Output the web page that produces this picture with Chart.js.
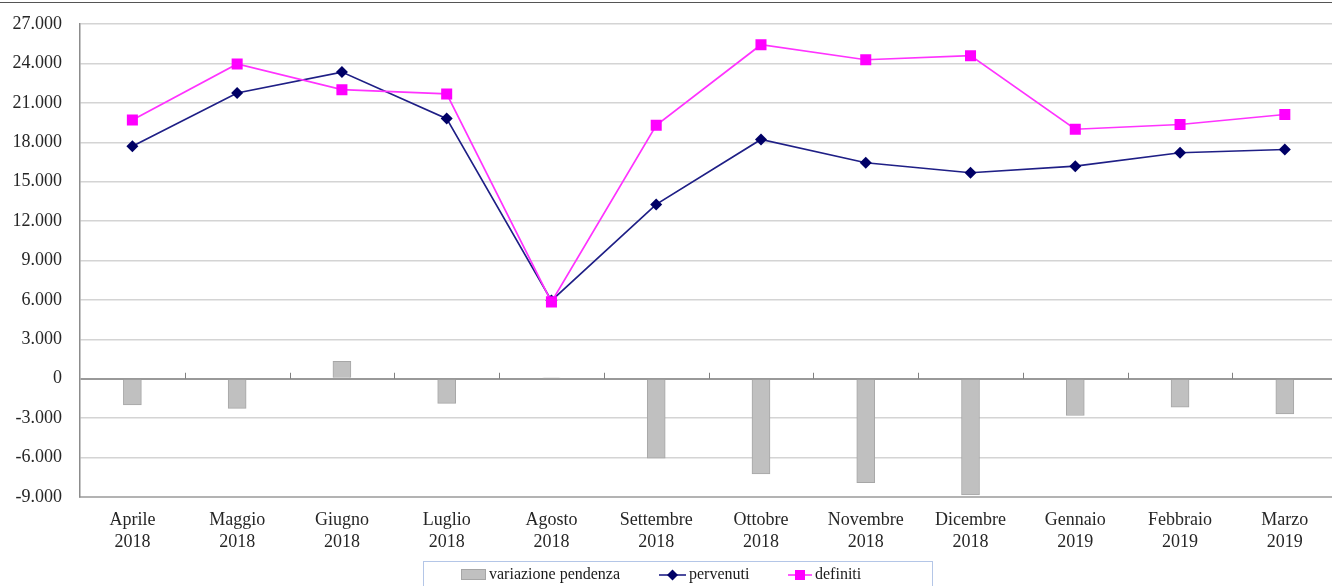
<!DOCTYPE html>
<html><head><meta charset="utf-8">
<script src="https://cdn.jsdelivr.net/npm/chart.js@4.4.1/dist/chart.umd.min.js"></script>
<style>
html,body{margin:0;padding:0;background:#fff;overflow:hidden;width:1332px;height:586px;}
#wrap{position:absolute;left:0;top:0;width:1345px;height:586px;}
#topline{position:absolute;left:0;top:2px;width:1332px;height:1px;background:#555;z-index:2}
</style></head><body>
<div id="topline"></div>
<div id="wrap"><canvas id="c" width="1345" height="586"></canvas></div>
<script>
const months = ["Aprile","Maggio","Giugno","Luglio","Agosto","Settembre","Ottobre","Novembre","Dicembre","Gennaio","Febbraio","Marzo"];
const years = ["2018","2018","2018","2018","2018","2018","2018","2018","2018","2019","2019","2019"];
const variazionePendenza = [-2000,-2250,1330,-1870,60,-6050,-7250,-7900,-8850,-2800,-2170,-2680];
const pervenuti = [17700,21750,23340,19800,5950,13270,18210,16440,15680,16180,17200,17450];
const definiti = [19700,23960,22000,21680,5850,19290,25420,24280,24590,18990,19350,20110];
const yMin = -9000, yMax = 27000, yStep = 3000;
const seriesNames = ["variazione pendenza","pervenuti","definiti"];

const labels = months.map((m,i)=>[m, years[i]]);
const FONT = "'Liberation Serif','Times New Roman',serif";
Chart.defaults.font.family = FONT;
Chart.defaults.color = '#262626';

function fmt(v){
  const s = Math.abs(v).toString().replace(/\B(?=(\d{3})+(?!\d))/g,'.');
  return (v<0?'-':'')+s;
}

const extras = {
  id:'extras',
  afterDatasetsDraw(chart){
    const ctx = chart.ctx, x = chart.scales.x, y = chart.scales.y;
    const y0 = y.getPixelForValue(0);
    ctx.save();
    ctx.strokeStyle = '#808080'; ctx.lineWidth = 1;
    for(let i=0;i<labels.length-1;i++){
      const xb = Math.round((x.getPixelForValue(i)+x.getPixelForValue(i+1))/2)+0.5;
      ctx.beginPath(); ctx.moveTo(xb,y0-6); ctx.lineTo(xb,y0); ctx.stroke();
    }
    ctx.restore();
  },
  afterDraw(chart){
    const ctx = chart.ctx;
    const ds = chart.data.datasets;
    ctx.save();
    ctx.strokeStyle = '#b4c6e7'; ctx.lineWidth = 1;
    ctx.strokeRect(423.5, 561.5, 509, 40);
    ctx.font = "16px " + FONT; ctx.fillStyle = '#1a1a1a';
    ctx.textBaseline = 'middle'; ctx.textAlign='left';
    const cy = 575;
    ctx.fillStyle = ds[0].backgroundColor; ctx.fillRect(461, 569, 25, 11);
    ctx.strokeStyle = ds[0].borderColor; ctx.strokeRect(461.5, 569.5, 24, 10);
    ctx.fillStyle = '#1a1a1a'; ctx.fillText(ds[0].label, 489, cy);
    ctx.strokeStyle = ds[1].borderColor; ctx.lineWidth = 1.6;
    ctx.beginPath(); ctx.moveTo(659, cy); ctx.lineTo(686, cy); ctx.stroke();
    ctx.fillStyle = ds[1].pointBackgroundColor;
    ctx.beginPath(); ctx.moveTo(672.5-5.5, cy); ctx.lineTo(672.5, cy-5.5); ctx.lineTo(672.5+5.5, cy); ctx.lineTo(672.5, cy+5.5); ctx.closePath(); ctx.fill();
    ctx.fillStyle = '#1a1a1a'; ctx.fillText(ds[1].label, 689, cy);
    ctx.strokeStyle = ds[2].borderColor;
    ctx.beginPath(); ctx.moveTo(788, cy); ctx.lineTo(812, cy); ctx.stroke();
    ctx.fillStyle = ds[2].pointBackgroundColor; ctx.fillRect(795, cy-5, 10, 10);
    ctx.fillStyle = '#1a1a1a'; ctx.fillText(ds[2].label, 815, cy);
    ctx.restore();
  }
};

new Chart(document.getElementById('c'), {
  type:'bar',
  data:{
    labels,
    datasets:[
      {type:'bar', label:seriesNames[0], data:variazionePendenza, backgroundColor:'#c0c0c0', borderColor:'#a6a6a6', borderWidth:1, barThickness:18, order:3},
      {type:'line', label:seriesNames[1], data:pervenuti, borderColor:'#1f1f86', borderWidth:1.7, pointStyle:'rectRot', pointRadius:6, pointBackgroundColor:'#000066', pointBorderColor:'#000066', pointBorderWidth:0, tension:0, order:2},
      {type:'line', label:seriesNames[2], data:definiti, borderColor:'#ff33ff', borderWidth:1.7, pointStyle:'rect', pointRadius:7.8, pointBackgroundColor:'#ff00ff', pointBorderColor:'#ff00ff', pointBorderWidth:0, tension:0, order:1}
    ]
  },
  options:{
    responsive:false, animation:false, devicePixelRatio:1,
    layout:{padding:{top:24,left:0,right:4,bottom:0}},
    plugins:{legend:{display:false}, tooltip:{enabled:false}},
    scales:{
      x:{
        grid:{display:false, drawTicks:false},
        border:{display:true, color:'#b3b3b3', width:2},
        ticks:{font:{size:18, lineHeight:1.25}, color:'#262626', padding:12, maxRotation:0, autoSkip:false},
        afterFit(s){ s.height = 89; s.paddingLeft = 0; s.paddingRight = 0; }
      },
      y:{
        min:yMin, max:yMax,
        grid:{drawTicks:false, color:(c)=> c.tick && c.tick.value===0 ? '#999999' : (c.tick && c.tick.value===yMin ? 'rgba(0,0,0,0)' : '#d4d4d4'), lineWidth:(c)=> c.tick && c.tick.value===0 ? 2 : 1.5},
        border:{display:true, color:'#8c8c8c', width:1.5},
        ticks:{stepSize:yStep, font:{size:18}, color:'#262626', padding:18, callback:(v)=>fmt(v)},
        afterFit(s){ s.width = 80; s.paddingTop = 0; s.paddingBottom = 0; }
      }
    }
  },
  plugins:[extras]
});
</script>
</body></html>
